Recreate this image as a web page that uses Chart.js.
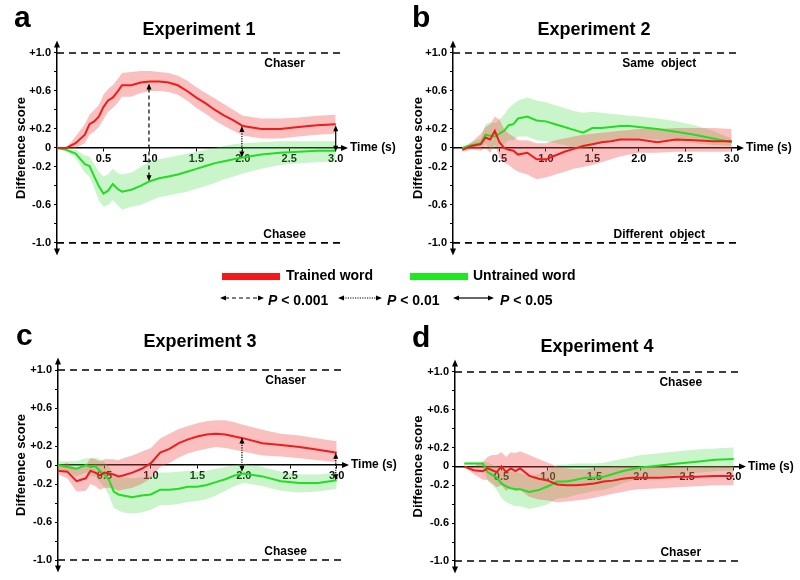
<!DOCTYPE html>
<html lang="en">
<head>
<meta charset="UTF-8">
<title>Difference score over time - Experiments 1-4</title>
<script src="https://cdn.jsdelivr.net/npm/chart.js"></script>
<style>
    body { margin: 0; background: #fff; font-family: Arial, "Liberation Sans", sans-serif; color: #000; }
    #page { position: relative; width: 800px; height: 580px; overflow: hidden; }
    canvas { position: absolute; display: block; }
    .letter { position: absolute; font-weight: bold; font-size: 30px; line-height: 1; }
    .title { position: absolute; width: 200px; text-align: center; font-weight: bold; font-size: 18px; line-height: 1; }
    .legend { position: absolute; font-weight: bold; font-size: 14px; line-height: 1; white-space: nowrap; }
    .bar { position: absolute; width: 58px; height: 7px; }
    svg { position: absolute; overflow: visible; }
</style>
</head>
<body>
<div id="page">
    <canvas id="exp1" width="400" height="262" style="left:0;top:0"></canvas>
    <canvas id="exp2" width="400" height="262" style="left:400px;top:0"></canvas>
    <canvas id="exp3" width="400" height="290" style="left:0;top:290px"></canvas>
    <canvas id="exp4" width="400" height="290" style="left:400px;top:290px"></canvas>

    <div class="letter" style="left:14px;top:2px">a</div>
    <div class="letter" style="left:412px;top:2px">b</div>
    <div class="letter" style="left:16px;top:320px">c</div>
    <div class="letter" style="left:412px;top:322px">d</div>

    <div class="title" style="left:99px;top:20px">Experiment 1</div>
    <div class="title" style="left:494px;top:20px">Experiment 2</div>
    <div class="title" style="left:100px;top:332px">Experiment 3</div>
    <div class="title" style="left:497px;top:337px">Experiment 4</div>

    <!-- legend -->
    <div class="bar" style="left:222px;top:273px;background:#f01818"></div>
    <div class="legend" style="left:286px;top:268px">Trained word</div>
    <div class="bar" style="left:410px;top:273px;background:#22e622"></div>
    <div class="legend" style="left:473px;top:268px">Untrained word</div>

    <svg style="left:220px;top:294px" width="44" height="8">
        <line x1="5" y1="4" x2="39" y2="4" stroke="#000" stroke-width="1.2" stroke-dasharray="4 3"/>
        <polygon points="0,4 6,1.5 6,6.5" fill="#000"/><polygon points="44,4 38,1.5 38,6.5" fill="#000"/>
    </svg>
    <div class="legend" style="left:268px;top:293px"><i>P</i> &lt; 0.001</div>
    <svg style="left:338px;top:294px" width="44" height="8">
        <line x1="5" y1="4" x2="39" y2="4" stroke="#000" stroke-width="1.2" stroke-dasharray="1.2 1.2"/>
        <polygon points="0,4 6,1.5 6,6.5" fill="#000"/><polygon points="44,4 38,1.5 38,6.5" fill="#000"/>
    </svg>
    <div class="legend" style="left:387px;top:293px"><i>P</i> &lt; 0.01</div>
    <svg style="left:453px;top:294px" width="41" height="8">
        <line x1="5" y1="4" x2="36" y2="4" stroke="#000" stroke-width="1.2"/>
        <polygon points="0,4 6,1.5 6,6.5" fill="#000"/><polygon points="41,4 35,1.5 35,6.5" fill="#000"/>
    </svg>
    <div class="legend" style="left:500px;top:293px"><i>P</i> &lt; 0.05</div>
</div>

<script>
// ---- data ----
const timeGrid = [0, 0.1, 0.2, 0.3, 0.35, 0.4, 0.45, 0.5, 0.55, 0.6, 0.65, 0.7, 0.8, 0.9, 1.0,
                  1.1, 1.2, 1.3, 1.4, 1.5, 1.6, 1.7, 1.8, 1.9, 2.0, 2.2, 2.4, 2.6, 2.8, 3.0];

const xTickValues = [0.5, 1.0, 1.5, 2.0, 2.5, 3.0];
const xTickLabels = ['0.5', '1.0', '1.5', '2.0', '2.5', '3.0'];
const yTickValues = [-1, -0.8, -0.6, -0.4, -0.2, 0, 0.2, 0.4, 0.6, 0.8, 1];
const yTickLabels = ['-1.0', '', '-0.6', '', '-0.2', '0', '+0.2', '', '+0.6', '', '+1.0'];
const boundLevels = [1, -1];

// Experiment 1
const exp1Trained     = [0, 0, 0.05, 0.14, 0.25, 0.28, 0.33, 0.43, 0.50, 0.53, 0.59, 0.66, 0.66, 0.69, 0.70, 0.70, 0.69, 0.66, 0.60, 0.53, 0.47, 0.40, 0.34, 0.29, 0.23, 0.20, 0.20, 0.22, 0.24, 0.25];
const exp1TrainedHi   = [0, 0, 0.12, 0.25, 0.35, 0.40, 0.45, 0.56, 0.62, 0.66, 0.72, 0.79, 0.80, 0.81, 0.81, 0.80, 0.79, 0.76, 0.71, 0.64, 0.58, 0.52, 0.46, 0.40, 0.34, 0.31, 0.31, 0.32, 0.34, 0.35];
const exp1TrainedLo   = [0, 0, 0.00, 0.05, 0.14, 0.17, 0.22, 0.30, 0.38, 0.42, 0.47, 0.54, 0.54, 0.58, 0.60, 0.60, 0.59, 0.56, 0.50, 0.42, 0.36, 0.29, 0.23, 0.18, 0.13, 0.10, 0.10, 0.12, 0.14, 0.15];
const exp1Untrained   = [0, -0.02, -0.06, -0.17, -0.19, -0.30, -0.40, -0.48, -0.45, -0.38, -0.43, -0.46, -0.44, -0.40, -0.35, -0.32, -0.30, -0.28, -0.25, -0.22, -0.19, -0.16, -0.14, -0.12, -0.10, -0.07, -0.05, -0.04, -0.03, -0.03];
const exp1UntrainedHi = [0, -0.01, -0.02, -0.08, -0.09, -0.17, -0.25, -0.30, -0.28, -0.22, -0.26, -0.28, -0.26, -0.20, -0.14, -0.12, -0.10, -0.08, -0.06, -0.04, -0.02, 0.00, 0.02, 0.04, 0.05, 0.06, 0.07, 0.07, 0.07, 0.07];
const exp1UntrainedLo = [0, -0.04, -0.10, -0.26, -0.30, -0.42, -0.55, -0.62, -0.60, -0.55, -0.60, -0.65, -0.62, -0.60, -0.56, -0.52, -0.50, -0.48, -0.46, -0.43, -0.40, -0.37, -0.33, -0.30, -0.27, -0.22, -0.18, -0.16, -0.15, -0.14];
const exp1SigTimes  = [0.99, 1.99, 3.0];
const exp1SigTop    = [0.68, 0.23, 0.24];
const exp1SigBottom = [-0.35, -0.10, -0.04];
const exp1SigLevel  = ['p001', 'p01', 'p05'];

// Experiment 2
const exp2Trained     = [null, -0.02, 0.02, 0.04, 0.11, 0.09, 0.18, 0.06, 0.00, -0.02, -0.03, -0.07, -0.05, -0.12, -0.12, -0.08, -0.04, -0.01, 0.02, 0.04, 0.06, 0.07, 0.09, 0.09, 0.09, 0.06, 0.09, 0.08, 0.07, 0.07];
const exp2TrainedHi   = [null, 0.00, 0.06, 0.15, 0.22, 0.25, 0.33, 0.30, 0.20, 0.15, 0.12, 0.08, 0.08, 0.05, 0.05, 0.08, 0.10, 0.12, 0.14, 0.15, 0.16, 0.17, 0.18, 0.19, 0.20, 0.20, 0.21, 0.21, 0.21, 0.20];
const exp2TrainedLo   = [null, -0.04, -0.02, -0.03, 0.00, -0.05, 0.03, -0.10, -0.15, -0.18, -0.22, -0.25, -0.28, -0.33, -0.31, -0.28, -0.25, -0.22, -0.20, -0.18, -0.15, -0.12, -0.09, -0.07, -0.05, -0.05, -0.04, -0.04, -0.04, -0.04];
const exp2Untrained   = [null, 0.00, 0.03, 0.05, 0.14, 0.13, 0.12, 0.15, 0.18, 0.24, 0.25, 0.31, 0.33, 0.29, 0.28, 0.25, 0.22, 0.19, 0.16, 0.21, 0.21, 0.22, 0.23, 0.23, 0.22, 0.20, 0.17, 0.14, 0.10, 0.06];
const exp2UntrainedHi = [null, 0.01, 0.06, 0.10, 0.25, 0.27, 0.26, 0.30, 0.35, 0.42, 0.46, 0.50, 0.53, 0.50, 0.48, 0.45, 0.42, 0.39, 0.37, 0.38, 0.37, 0.36, 0.35, 0.34, 0.33, 0.31, 0.28, 0.24, 0.18, 0.10];
const exp2UntrainedLo = [null, -0.01, 0.00, 0.00, 0.04, 0.00, 0.00, 0.02, 0.04, 0.08, 0.08, 0.12, 0.12, 0.08, 0.07, 0.05, 0.03, 0.00, -0.02, 0.03, 0.05, 0.07, 0.09, 0.10, 0.10, 0.09, 0.07, 0.05, 0.03, 0.02];

// Experiment 3
const exp3Trained     = [-0.06, -0.07, -0.17, -0.14, -0.06, -0.08, -0.11, -0.08, -0.09, -0.10, -0.12, -0.11, -0.08, -0.04, 0.02, 0.13, 0.17, 0.23, 0.27, 0.30, 0.32, 0.33, 0.32, 0.30, 0.28, 0.23, 0.21, 0.19, 0.16, 0.13];
const exp3TrainedHi   = [0.00, 0.02, -0.04, 0.00, 0.07, 0.06, 0.04, 0.06, 0.06, 0.06, 0.05, 0.07, 0.10, 0.14, 0.18, 0.28, 0.33, 0.38, 0.41, 0.44, 0.46, 0.47, 0.47, 0.45, 0.42, 0.37, 0.33, 0.31, 0.28, 0.25];
const exp3TrainedLo   = [-0.10, -0.14, -0.28, -0.27, -0.20, -0.22, -0.26, -0.24, -0.24, -0.25, -0.27, -0.26, -0.24, -0.20, -0.14, -0.02, 0.02, 0.08, 0.12, 0.15, 0.17, 0.19, 0.18, 0.16, 0.14, 0.10, 0.09, 0.07, 0.05, 0.03];
const exp3Untrained   = [0.00, -0.02, -0.04, 0.00, -0.02, -0.01, -0.06, -0.10, -0.16, -0.28, -0.31, -0.32, -0.34, -0.32, -0.31, -0.26, -0.26, -0.25, -0.23, -0.23, -0.21, -0.18, -0.15, -0.11, -0.09, -0.12, -0.17, -0.19, -0.19, -0.16];
const exp3UntrainedHi = [0.04, 0.04, 0.04, 0.07, 0.07, 0.08, 0.06, 0.03, -0.02, -0.10, -0.12, -0.13, -0.14, -0.13, -0.12, -0.08, -0.08, -0.07, -0.06, -0.07, -0.06, -0.04, -0.02, 0.00, 0.01, -0.02, -0.07, -0.10, -0.10, -0.08];
const exp3UntrainedLo = [-0.04, -0.08, -0.12, -0.08, -0.12, -0.12, -0.18, -0.24, -0.32, -0.45, -0.48, -0.50, -0.51, -0.50, -0.47, -0.42, -0.42, -0.41, -0.39, -0.38, -0.36, -0.32, -0.27, -0.22, -0.19, -0.22, -0.27, -0.29, -0.28, -0.25];
const exp3SigTimes  = [1.98, 2.99];
const exp3SigTop    = [0.29, 0.13];
const exp3SigBottom = [-0.07, -0.16];
const exp3SigLevel  = ['p01', 'p01'];

// Experiment 4
const exp4Trained     = [null, 0.00, -0.04, -0.05, -0.02, -0.04, -0.06, 0.00, -0.06, -0.02, -0.05, -0.02, -0.10, -0.13, -0.15, -0.19, -0.20, -0.20, -0.19, -0.18, -0.16, -0.15, -0.13, -0.12, -0.12, -0.12, -0.11, -0.11, -0.10, -0.10];
const exp4TrainedHi   = [null, 0.00, 0.00, 0.05, 0.10, 0.12, 0.12, 0.15, 0.10, 0.15, 0.14, 0.16, 0.12, 0.08, 0.04, 0.00, -0.02, -0.03, -0.03, -0.02, -0.01, 0.00, 0.00, 0.00, 0.00, 0.00, 0.00, 0.00, 0.00, 0.00];
const exp4TrainedLo   = [null, 0.00, -0.08, -0.14, -0.14, -0.18, -0.22, -0.20, -0.26, -0.22, -0.26, -0.25, -0.32, -0.35, -0.36, -0.38, -0.37, -0.36, -0.35, -0.33, -0.31, -0.29, -0.27, -0.25, -0.24, -0.23, -0.22, -0.21, -0.20, -0.20];
const exp4Untrained   = [null, 0.03, 0.03, 0.03, -0.06, -0.09, -0.12, -0.18, -0.21, -0.23, -0.24, -0.24, -0.27, -0.25, -0.21, -0.16, -0.16, -0.14, -0.12, -0.12, -0.11, -0.08, -0.05, -0.03, -0.01, 0.01, 0.03, 0.05, 0.07, 0.08];
const exp4UntrainedHi = [null, 0.04, 0.05, 0.05, 0.04, 0.02, 0.00, -0.02, -0.04, -0.05, -0.06, -0.07, -0.10, -0.08, -0.04, 0.02, 0.02, 0.03, 0.03, 0.03, 0.04, 0.06, 0.08, 0.10, 0.12, 0.14, 0.16, 0.18, 0.19, 0.20];
const exp4UntrainedLo = [null, 0.02, 0.01, 0.00, -0.15, -0.20, -0.25, -0.33, -0.38, -0.40, -0.42, -0.42, -0.45, -0.43, -0.40, -0.34, -0.33, -0.30, -0.28, -0.26, -0.25, -0.22, -0.18, -0.15, -0.13, -0.11, -0.09, -0.07, -0.05, -0.04];

// ---- styling ----
const RED = '#ee1c1c', GREEN = '#22dd22';
const RED_BAND = 'rgba(240, 80, 80, 0.36)', GREEN_BAND = 'rgba(80, 220, 80, 0.30)';
const FONT = 'Arial, "Liberation Sans", sans-serif';
Chart.defaults.font.family = FONT;
Chart.defaults.color = '#000';

const sigDash = { p001: [4, 3], p01: [1.2, 1.2], p05: [] };

function arrowHead(ctx, x, y, dir, len, half) {
    const [dx, dy] = { up: [0, -1], down: [0, 1], right: [1, 0], left: [-1, 0] }[dir];
    ctx.beginPath();
    ctx.moveTo(x, y);
    ctx.lineTo(x - dx * len - dy * half, y - dy * len + dx * half);
    ctx.lineTo(x - dx * len + dy * half, y - dy * len - dx * half);
    ctx.closePath();
    ctx.fill();
}

// axis arrows, reference lines, side labels and significance arrows
const decorPlugin = {
    id: 'decor',
    afterDraw(chart, args, opts) {
        const { ctx, chartArea: area, scales: { x, y } } = chart;
        const y0 = y.getPixelForValue(0);
        ctx.save();
        ctx.fillStyle = '#000';
        ctx.strokeStyle = '#000';

        // dashed +1 / -1 lines
        ctx.lineWidth = 1.6;
        ctx.setLineDash([7, 5]);
        boundLevels.forEach(v => {
            const py = y.getPixelForValue(v);
            ctx.beginPath();
            ctx.moveTo(x.getPixelForValue(0), py);
            ctx.lineTo(x.getPixelForValue(3.05), py);
            ctx.stroke();
        });
        ctx.setLineDash([]);

        // axis arrowheads
        arrowHead(ctx, area.right + 3, y0, 'right', 7, 3);
        arrowHead(ctx, area.left, area.top - 3, 'up', 7, 3);
        arrowHead(ctx, area.left, area.bottom + 3, 'down', 7, 3);

        ctx.font = 'bold 12px ' + FONT;
        ctx.textBaseline = 'middle';
        ctx.textAlign = 'left';
        ctx.fillText('Time (s)', area.right + 5, y0);

        ctx.textAlign = 'center';
        const lx = x.getPixelForValue(opts.labelAt);
        ctx.fillText(opts.upperLabel, lx, y.getPixelForValue(0.89));
        ctx.fillText(opts.lowerLabel, lx, y.getPixelForValue(-0.91));

        // significance arrows
        (opts.sigTimes || []).forEach((t, i) => {
            const px = x.getPixelForValue(t);
            const top = y.getPixelForValue(opts.sigTop[i]);
            const bot = y.getPixelForValue(opts.sigBottom[i]);
            ctx.lineWidth = 1.2;
            ctx.setLineDash(sigDash[opts.sigLevel[i]]);
            ctx.beginPath();
            ctx.moveTo(px, top + 5);
            ctx.lineTo(px, bot - 5);
            ctx.stroke();
            ctx.setLineDash([]);
            arrowHead(ctx, px, top, 'up', 6, 2.5);
            arrowHead(ctx, px, bot, 'down', 6, 2.5);
        });
        ctx.restore();
    }
};

function pts(values) {
    return timeGrid.map((t, i) => ({ x: t, y: values[i] }));
}

function makeChart(id, series, layout, decor) {
    const line = (label, data, color) => ({
        label, data: pts(data), borderColor: color, borderWidth: 2,
        pointRadius: 0, fill: false, order: 0
    });
    const band = (data, color, fillIt) => ({
        data: pts(data), borderWidth: 0, borderColor: 'transparent', pointRadius: 0,
        backgroundColor: color, fill: fillIt ? '-1' : false, order: 1
    });

    return new Chart(document.getElementById(id), {
        type: 'line',
        data: {
            datasets: [
                line('Trained word', series.trained, RED),
                line('Untrained word', series.untrained, GREEN),
                band(series.trainedLo, RED_BAND, false),
                band(series.trainedHi, RED_BAND, true),
                band(series.untrainedLo, GREEN_BAND, false),
                band(series.untrainedHi, GREEN_BAND, true)
            ]
        },
        options: {
            responsive: false,
            animation: false,
            layout: { padding: { left: 0, top: layout.top, right: layout.right, bottom: layout.bottom } },
            plugins: { legend: { display: false }, tooltip: { enabled: false }, decor: decor },
            scales: {
                x: {
                    type: 'linear', min: 0, max: 3.1,
                    position: { y: 0 },
                    afterBuildTicks: s => { s.ticks = xTickValues.map(v => ({ value: v })); },
                    ticks: {
                        callback: (v, i) => xTickLabels[i],
                        font: { weight: 'bold', size: 11 }, color: '#000',
                        padding: 1, maxRotation: 0, autoSkip: false
                    },
                    grid: { display: true, drawOnChartArea: false, tickLength: 3, color: '#000' },
                    border: { display: true, color: '#000', width: 1.5 }
                },
                y: {
                    type: 'linear', min: -1.1, max: 1.1,
                    afterBuildTicks: s => { s.ticks = yTickValues.map(v => ({ value: v })); },
                    afterFit: s => { s.width = layout.axisWidth; },
                    ticks: {
                        callback: (v, i) => yTickLabels[i],
                        font: { weight: 'bold', size: 11 }, color: '#000',
                        padding: 3, autoSkip: false
                    },
                    grid: { display: true, drawOnChartArea: false, tickLength: 3, color: '#000' },
                    border: { display: true, color: '#000', width: 1.5 },
                    title: {
                        display: true, text: 'Difference score', color: '#000',
                        font: { weight: 'bold', size: 13 },
                        padding: { top: layout.titlePad, bottom: 0 }
                    }
                }
            }
        },
        plugins: [decorPlugin]
    });
}

makeChart('exp1',
    { trained: exp1Trained, trainedHi: exp1TrainedHi, trainedLo: exp1TrainedLo,
      untrained: exp1Untrained, untrainedHi: exp1UntrainedHi, untrainedLo: exp1UntrainedLo },
    { axisWidth: 57, titlePad: 14, top: 43.5, right: 55, bottom: 8.5 },
    { upperLabel: 'Chaser', lowerLabel: 'Chasee', labelAt: 2.45,
      sigTimes: exp1SigTimes, sigTop: exp1SigTop, sigBottom: exp1SigBottom, sigLevel: exp1SigLevel });

makeChart('exp2',
    { trained: exp2Trained, trainedHi: exp2TrainedHi, trainedLo: exp2TrainedLo,
      untrained: exp2Untrained, untrainedHi: exp2UntrainedHi, untrainedLo: exp2UntrainedLo },
    { axisWidth: 53, titlePad: 11, top: 43.5, right: 59, bottom: 8.5 },
    { upperLabel: 'Same  object', lowerLabel: 'Different  object', labelAt: 2.22 });

makeChart('exp3',
    { trained: exp3Trained, trainedHi: exp3TrainedHi, trainedLo: exp3TrainedLo,
      untrained: exp3Untrained, untrainedHi: exp3UntrainedHi, untrainedLo: exp3UntrainedLo },
    { axisWidth: 58, titlePad: 14, top: 70.5, right: 54, bottom: 10.5 },
    { upperLabel: 'Chaser', lowerLabel: 'Chasee', labelAt: 2.45,
      sigTimes: exp3SigTimes, sigTop: exp3SigTop, sigBottom: exp3SigBottom, sigLevel: exp3SigLevel });

makeChart('exp4',
    { trained: exp4Trained, trainedHi: exp4TrainedHi, trainedLo: exp4TrainedLo,
      untrained: exp4Untrained, untrainedHi: exp4UntrainedHi, untrainedLo: exp4UntrainedLo },
    { axisWidth: 55, titlePad: 11, top: 72.5, right: 57, bottom: 7.5 },
    { upperLabel: 'Chasee', lowerLabel: 'Chaser', labelAt: 2.43 });
</script>
</body>
</html>
